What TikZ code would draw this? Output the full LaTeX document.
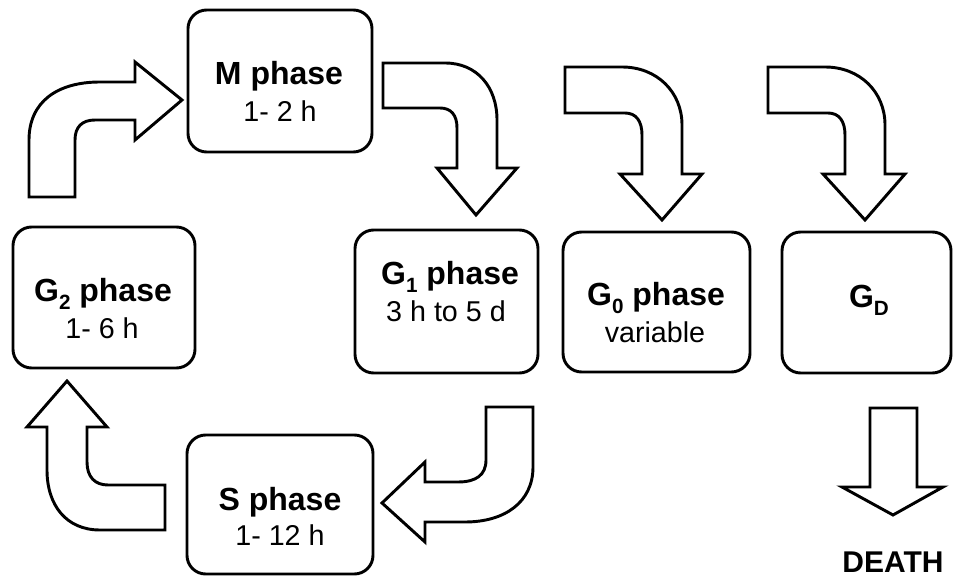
\documentclass[tikz,border=0pt]{standalone}
\usepackage{fontspec}
\setmainfont{Liberation Sans}
\newcommand\gsub[1]{\raisebox{-5.5pt}{\fontsize{15.5}{15.5}\selectfont #1}}
\begin{document}
\begin{tikzpicture}[x=0.75pt,y=-0.75pt,
  box/.style={draw=black, line width=2.2pt, rounded corners=14pt, fill=white, inner sep=0pt},
  blockarrow/.style={draw=black, line width=2.2pt, fill=white, line join=miter},
  tone/.style={font=\fontsize{24}{28}\selectfont\bfseries, inner sep=0pt, anchor=base},
  ttwo/.style={font=\fontsize{21.5}{26}\selectfont, inner sep=0pt, anchor=base}]
\useasboundingbox (0,0) rectangle (955,580);
\fill[white] (0,0) rectangle (955,580);

% boxes
\node[box, minimum width=138pt, minimum height=106.5pt] (M) at (280,81) {};
\node[box, minimum width=136.5pt, minimum height=105.75pt] (G2) at (104,297.5) {};
\node[box, minimum width=137.25pt, minimum height=107.25pt] (G1) at (446.5,301.5) {};
\node[box, minimum width=140.25pt, minimum height=105pt] (G0) at (656.5,302) {};
\node[box, minimum width=126.75pt, minimum height=105.75pt] (GD) at (866.5,302.5) {};
\node[box, minimum width=139.5pt, minimum height=104.25pt] (S) at (280,504.5) {};

% texts
\node[tone] (Mt1) at (279,85) {M phase};
\node[ttwo] (Mt2) at (280,122) {1- 2 h};
\node[tone] (G2t1) at (103,302) {G\gsub{2} phase};
\node[ttwo] (G2t2) at (102,339) {1- 6 h};
\node[tone] (G1t1) at (450,285) {G\gsub{1} phase};
\node[ttwo] (G1t2) at (446,322) {3 h to 5 d};
\node[tone] (G0t1) at (656,306) {G\gsub{0} phase};
\node[ttwo] (G0t2) at (655,343) {variable};
\node[tone] (GDt) at (869,308) {G\gsub{D}};
\node[tone] (St1) at (280,510) {S phase};
\node[ttwo] (St2) at (280,545) {1- 12 h};
\node[font=\fontsize{22.5}{26}\selectfont\bfseries, inner sep=0pt, anchor=base] (death) at (893,572) {DEATH};

% block arrows
% G2 -> M
\draw[blockarrow] (29,197) -- (29,140) .. controls (29,102) and (57,82) .. (100,82)
  -- (135,82) -- (135,62) -- (182,100) -- (135,140) -- (135,120) -- (95,120)
  .. controls (82,120) and (75,127) .. (75,140) -- (75,197) -- cycle;
% M -> G1
\draw[blockarrow] (383,63) -- (445,63) .. controls (477,63) and (497,87) .. (497,120)
  -- (497,168) -- (517,168) -- (476,215) -- (437,168) -- (457,168) -- (457,128)
  .. controls (457,115) and (451,108) .. (440,108) -- (383,108) -- cycle;
% -> G0
\draw[blockarrow] (565,67) -- (622,67) .. controls (657,67) and (682,92) .. (682,125)
  -- (682,174) -- (702,174) -- (662,220) -- (620,174) -- (642,174) -- (642,135)
  .. controls (642,121) and (636,113) .. (625,113) -- (565,113) -- cycle;
% -> GD
\begin{scope}[shift={(203,0)}]
\draw[blockarrow] (565,67) -- (622,67) .. controls (657,67) and (682,92) .. (682,125)
  -- (682,174) -- (702,174) -- (662,220) -- (620,174) -- (642,174) -- (642,135)
  .. controls (642,121) and (636,113) .. (625,113) -- (565,113) -- cycle;
\end{scope}
% G1 -> S
\draw[blockarrow] (486,407) -- (533,407) -- (533,467) .. controls (533,502) and (505,522) .. (465,522)
  -- (425,522) -- (425,542) -- (382,503) -- (425,462) -- (425,482) -- (458,482)
  .. controls (476,482) and (486,475) .. (486,460) -- cycle;
% S -> G2
\draw[blockarrow] (165,485) -- (165,530) -- (100,530) .. controls (66,530) and (47,505) .. (47,470)
  -- (47,427) -- (27,427) -- (67,381) -- (107,427) -- (87,427) -- (87,462)
  .. controls (87,477) and (95,485) .. (108,485) -- cycle;
% GD -> DEATH
\draw[blockarrow] (870,408) -- (917,408) -- (917,487) -- (943,487) -- (893,515)
  -- (842,487) -- (870,487) -- cycle;
\end{tikzpicture}
\end{document}
